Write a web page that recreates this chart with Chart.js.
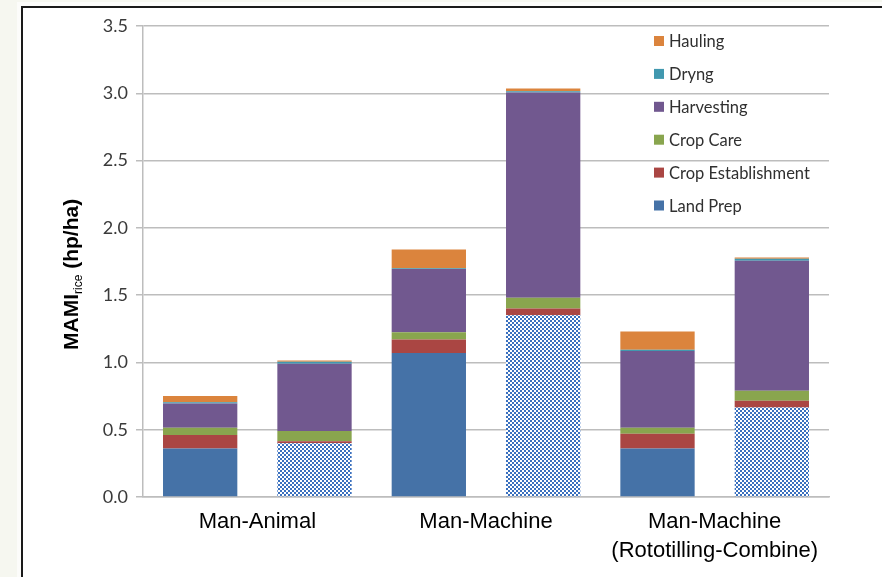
<!DOCTYPE html>
<html>
<head>
<meta charset="utf-8">
<script src="https://cdn.jsdelivr.net/npm/chart.js@4/dist/chart.umd.min.js"></script>
<style>
    html, body { margin: 0; padding: 0; background: #f6f7f0; }
    #wrap { position: relative; width: 882px; height: 577px; overflow: hidden; }
    #frame {
        position: absolute; left: 21px; top: 6px; width: 900px; height: 620px;
        background: #fff; border-left: 2px solid #1a1a1a; border-top: 2px solid #1a1a1a;
        outline: 4px solid #fcfcfa;
    }
    #chart { position: absolute; left: 0; top: 0; }
</style>
</head>
<body>
<div id="wrap">
    <div id="frame"></div>
    <canvas id="chart" width="882" height="577"></canvas>
</div>
<script>
// === DATEN ===
const CATEGORIES = ['Man-Animal', 'Man-Machine', ['Man-Machine', '(Rototilling-Combine)']];
const SERIES = ['Land Prep', 'Crop Establishment', 'Crop Care', 'Harvesting', 'Dryng', 'Hauling'];

// erster Balken je Gruppe (voll)
const LAND_PREP_1 = [0.36, 1.07, 0.36];
const CROP_EST_1 = [0.10, 0.10, 0.11];
const CROP_CARE_1 = [0.055, 0.055, 0.045];
const HARVESTING_1 = [0.18, 0.47, 0.57];
const DRYING_1 = [0.01, 0.005, 0.01];
const HAULING_1 = [0.045, 0.14, 0.135];

// zweiter Balken je Gruppe (Land Prep kariert)
const LAND_PREP_2 = [0.40, 1.35, 0.665];
const CROP_EST_2 = [0.015, 0.05, 0.05];
const CROP_CARE_2 = [0.075, 0.08, 0.075];
const HARVESTING_2 = [0.50, 1.525, 0.965];
const DRYING_2 = [0.015, 0.01, 0.015];
const HAULING_2 = [0.01, 0.02, 0.01];

const Y_TICKS = [0, 0.5, 1.0, 1.5, 2.0, 2.5, 3.0, 3.5];

// === KONSTANTEN ===
const COLORS = ['#4572a7', '#aa4643', '#89a54e', '#71588f', '#4198af', '#db843d'];
const GRID = '#bdbdbd';

// Karomuster für Land Prep im zweiten Balken
function checkerPattern(color) {
    const tile = document.createElement('canvas');
    tile.width = 4;
    tile.height = 4;
    const t = tile.getContext('2d');
    t.fillStyle = color;
    t.fillRect(0, 0, 4, 4);
    t.fillStyle = '#ffffff';
    t.fillRect(0, 0, 2, 2);
    t.fillRect(2, 2, 2, 2);
    return document.getElementById('chart').getContext('2d').createPattern(tile, 'repeat');
}

const setA = [LAND_PREP_1, CROP_EST_1, CROP_CARE_1, HARVESTING_1, DRYING_1, HAULING_1];
const setB = [LAND_PREP_2, CROP_EST_2, CROP_CARE_2, HARVESTING_2, DRYING_2, HAULING_2];

const datasets = [];
SERIES.forEach((name, i) => {
    datasets.push({
        label: name, data: setA[i], stack: 'A',
        backgroundColor: COLORS[i], borderWidth: 0,
        categoryPercentage: 1.0, barPercentage: 0.65
    });
});
SERIES.forEach((name, i) => {
    datasets.push({
        label: name, data: setB[i], stack: 'B',
        backgroundColor: i === 0 ? checkerPattern('#3a70be') : COLORS[i], borderWidth: 0,
        categoryPercentage: 1.0, barPercentage: 0.65
    });
});

// === PLUGINS ===
// Legende im Plotbereich oben rechts, umgekehrte Reihenfolge
const innerLegend = {
    id: 'innerLegend',
    afterDraw(chart) {
        const c = chart.ctx;
        c.save();
        c.font = '16.5px Lato';
        c.textBaseline = 'middle';
        c.textAlign = 'left';
        const items = chart.data.datasets.filter(d => d.stack === 'A').slice().reverse();
        items.forEach((d, k) => {
            const y = 41 + k * 32.9;
            c.fillStyle = d.backgroundColor;
            c.fillRect(654, y - 5, 10, 10);
            c.fillStyle = '#303030';
            c.fillText(d.label, 669, y + 1);
        });
        c.restore();
    }
};

// Y-Achsentitel mit Tiefstellung "rice"
const yTitle = {
    id: 'yTitle',
    afterDraw(chart) {
        const c = chart.ctx;
        c.save();
        c.translate(78, 350);
        c.rotate(-Math.PI / 2);
        c.fillStyle = '#000';
        c.textBaseline = 'alphabetic';
        c.textAlign = 'left';
        c.font = 'bold 21px "Liberation Sans"';
        let x = 0;
        c.fillText('MAMI', x, 0);
        x += c.measureText('MAMI').width;
        c.font = '12px "Liberation Sans"';
        c.fillText('rice', x, 4);
        x += c.measureText('rice').width;
        c.font = 'bold 21px "Liberation Sans"';
        c.fillText(' (hp/ha)', x, 0);
        c.restore();
    }
};

new Chart(document.getElementById('chart'), {
    type: 'bar',
    data: { labels: CATEGORIES, datasets },
    plugins: [innerLegend, yTitle],
    options: {
        responsive: false,
        animation: false,
        layout: { padding: { top: 26, right: 53, left: 0, bottom: 0 } },
        plugins: {
            legend: { display: false },
            tooltip: { enabled: false }
        },
        scales: {
            x: {
                stacked: true,
                grid: { display: false },
                border: { display: true, color: GRID, width: 1.5 },
                ticks: {
                    color: '#000',
                    font: { family: '"Liberation Sans"', size: 22, lineHeight: 1.3 },
                    padding: 3,
                    maxRotation: 0
                },
                afterFit(scale) { scale.height = 80; }
            },
            y: {
                stacked: true,
                min: 0,
                max: 3.5,
                afterBuildTicks(scale) { scale.ticks = Y_TICKS.map(v => ({ value: v })); },
                ticks: {
                    callback: v => Number(v).toFixed(1),
                    color: '#3a3a3a',
                    font: { family: 'Lato', size: 18 },
                    padding: 8
                },
                grid: { color: GRID, lineWidth: 1.5, tickLength: 7 },
                border: { color: GRID, width: 1.5 },
                afterFit(scale) { scale.width = 143; }
            }
        }
    }
});
</script>
</body>
</html>
